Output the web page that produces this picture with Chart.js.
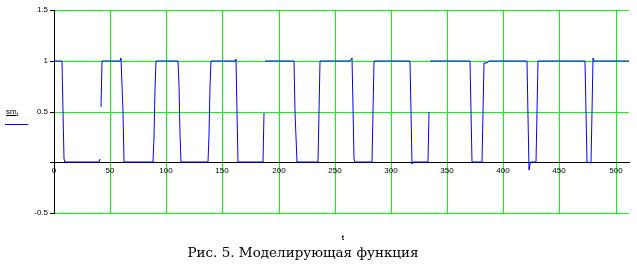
<!DOCTYPE html>
<html>
<head>
<meta charset="utf-8">
<script src="https://cdn.jsdelivr.net/npm/chart.js@4.4.1/dist/chart.umd.min.js"></script>
<style>
  html, body { margin: 0; padding: 0; background: #fff; }
  #wrap { width: 637px; height: 275px; }
</style>
</head>
<body>
<div id="wrap"><canvas id="smChart" width="637" height="275"></canvas></div>
<script>
// Corner points of the modelling function sm(t).
// null marks the places where the trace is broken.
const tPoints = [
    0, 7, 8, 9, 10,
    40, 41, 41.5, 42, 43,
    59, 60, 61, 62,
    88, 89, 90, 91,
    110, 111, 112, 113,
    137, 138, 139, 140,
    161, 162, 163, 164,
    186, 187, 187.5, 188,
    214, 215, 216,
    235, 236, 237,
    264, 265, 266, 267, 268,
    283, 284, 285,
    317, 318, 319, 320,
    333, 334, 334.5, 335,
    370, 371, 372,
    381, 382, 383, 386, 387,
    421, 422, 423, 424, 425, 429, 430, 431,
    473, 474, 475, 478, 479, 480, 481,
    512
];
const smValues = [
    1, 1, 0.5, 0.03, 0,
    0, 0.03, null, 0.54, 1,
    1, 1.03, 0.5, 0,
    0, 0.25, 0.72, 1,
    1, 0.76, 0.28, 0,
    0, 0.27, 0.74, 1,
    1, 1.02, 0.5, 0,
    0, 0.49, null, 1,
    1, 0.5, 0,
    0, 0.5, 1,
    1, 1.03, 0.54, 0.03, 0,
    0, 0.5, 1,
    1, 0.5, -0.02, 0,
    0, 0.5, null, 1,
    1, 0.5, 0,
    0, 0.5, 0.98, 0.98, 1,
    1, 0.46, -0.075, -0.02, 0, 0, 0.5, 1,
    1, 0.5, 0, -0.01, 0.5, 1.03, 1,
    1
];

// axis ranges and tick steps
const xRange = [0, 512];
const xStep = 50;
const yRange = [-0.5, 1.5];
const yStep = 0.5;
const yTickLabels = { '-0.5': '-0.5', '0': '', '0.5': '0.5', '1': '1', '1.5': '1.5' };

const yLabel = 'sm';
const yLabelSub = 't';
const xLabel = 't';
const caption = 'Рис. 5. Моделирующая функция';

const gridGreen = 'rgb(0, 255, 0)';
const traceBlue = '#0000ff';

// extra texts: axis names, trace legend and the figure caption
const labelsPlugin = {
    id: 'mcadLabels',
    afterDraw(chart) {
        const ctx = chart.ctx;
        ctx.save();
        ctx.fillStyle = '#000';
        ctx.textBaseline = 'alphabetic';
        ctx.textAlign = 'left';

        // y axis name with subscript + underline
        ctx.font = '8px "Liberation Sans"';
        ctx.fillText(yLabel, 6, 114);
        const w = ctx.measureText(yLabel).width;
        ctx.font = '6px "Liberation Sans"';
        ctx.fillText(yLabelSub, 6 + w, 116);
        ctx.fillRect(6, 115, w, 1);

        // legend line of the trace
        ctx.fillStyle = traceBlue;
        ctx.fillRect(5, 124, 23, 1);

        // x axis name
        ctx.fillStyle = '#000';
        ctx.font = 'bold 7px "Liberation Sans"';
        ctx.textAlign = 'center';
        ctx.fillText(xLabel, 343, 240);

        // caption
        ctx.font = '13.5px "DejaVu Serif"';
        ctx.fillText(caption, 303, 257);
        ctx.restore();
    }
};

const initSmChart = () => {
    const canvas = document.getElementById('smChart');
    const points = tPoints.map((t, i) => ({ x: t, y: smValues[i] }));

    new Chart(canvas, {
        type: 'line',
        data: {
            datasets: [{
                data: points,
                borderColor: traceBlue,
                borderWidth: 1,
                pointRadius: 0,
                tension: 0,
                spanGaps: false
            }]
        },
        options: {
            responsive: false,
            animation: false,
            devicePixelRatio: 1,
            layout: { padding: { top: 10, bottom: 62, left: 0, right: 8 } },
            plugins: { legend: { display: false }, tooltip: { enabled: false } },
            scales: {
                x: {
                    type: 'linear',
                    min: xRange[0],
                    max: xRange[1],
                    position: { y: 0 },
                    alignToPixels: true,
                    afterFit: (scale) => { scale.height = 0; },
                    grid: { color: gridGreen, lineWidth: 1, drawTicks: false },
                    border: { color: '#000', width: 1 },
                    ticks: {
                        stepSize: xStep,
                        includeBounds: false,
                        autoSkip: false,
                        maxRotation: 0,
                        padding: 4,
                        color: '#000',
                        font: { family: '"Liberation Sans"', size: 8 }
                    }
                },
                y: {
                    type: 'linear',
                    min: yRange[0],
                    max: yRange[1],
                    position: 'left',
                    alignToPixels: true,
                    afterFit: (scale) => { scale.width = 54; },
                    grid: { color: gridGreen, lineWidth: 1, tickColor: '#000', tickLength: 4 },
                    border: { color: '#000', width: 1 },
                    ticks: {
                        stepSize: yStep,
                        padding: 2,
                        color: '#000',
                        font: { family: '"Liberation Sans"', size: 8 },
                        callback: (value) => {
                            const key = String(value);
                            return key in yTickLabels ? yTickLabels[key] : '';
                        }
                    }
                }
            }
        },
        plugins: [labelsPlugin]
    });
};

document.addEventListener('DOMContentLoaded', initSmChart);
</script>
</body>
</html>
